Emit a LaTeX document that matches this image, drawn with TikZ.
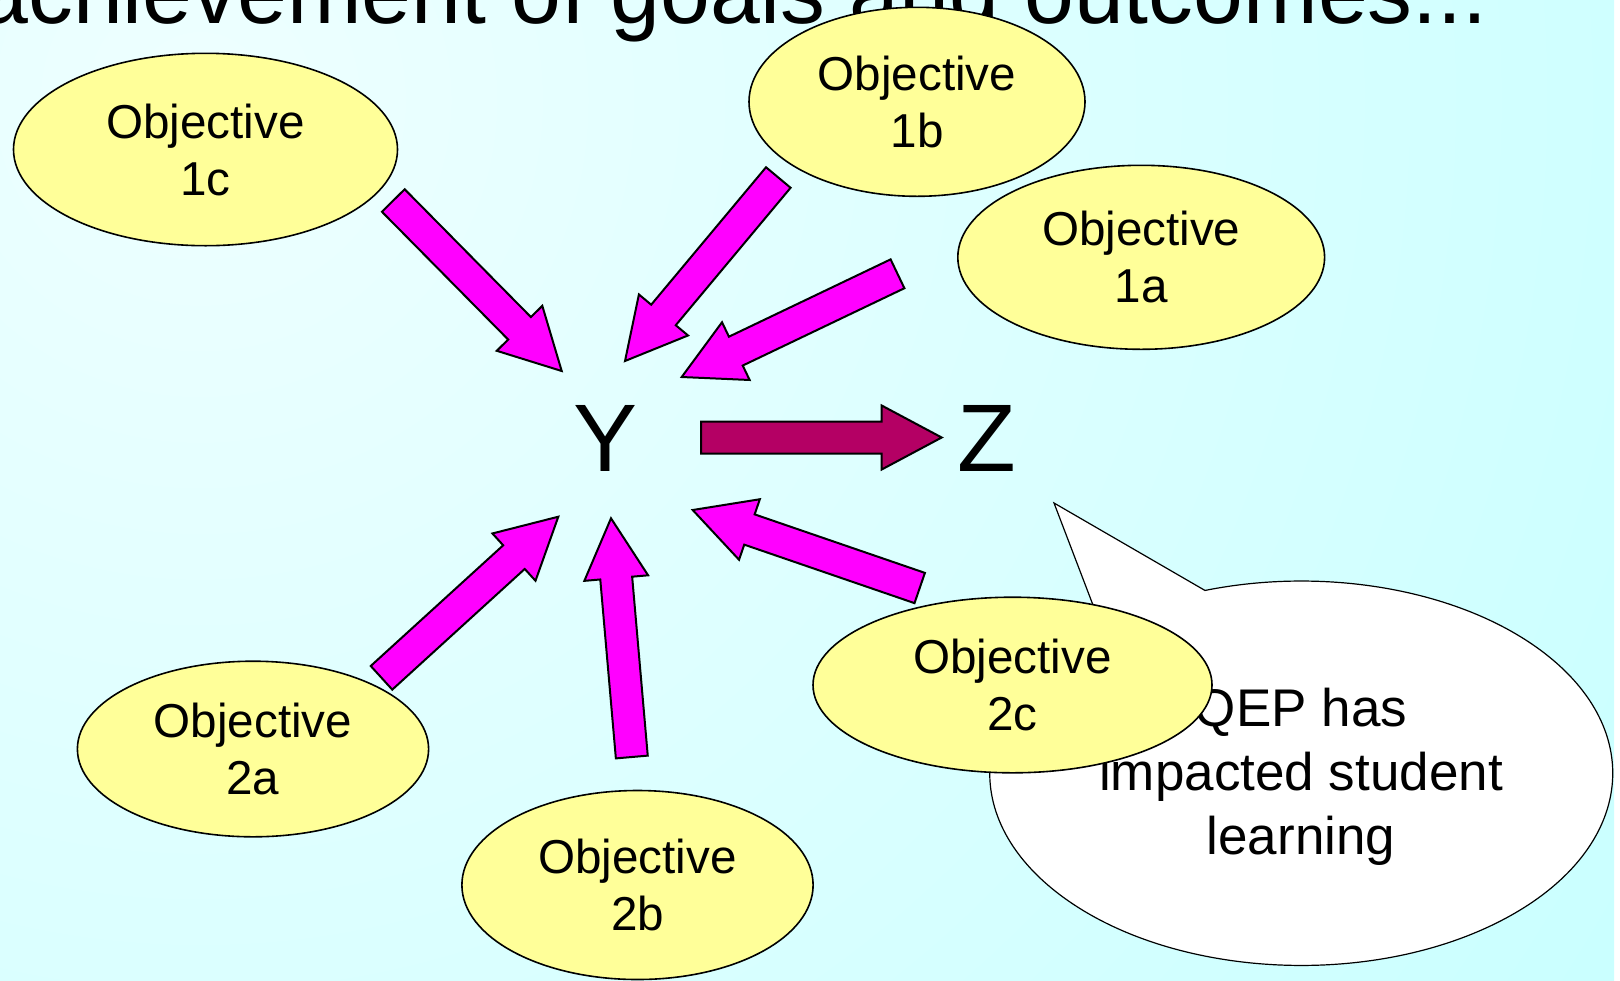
\documentclass[tikz,border=0pt]{standalone}
\usepackage{fontspec}
\setmainfont{Liberation Sans}
\usetikzlibrary{shapes.geometric, calc}

\definecolor{BgLight}{RGB}{238,255,255}
\definecolor{BgCyan}{RGB}{192,255,255}
\definecolor{ObjYellow}{RGB}{255,255,153}
\definecolor{ArrowPink}{RGB}{255,0,255}
\definecolor{LinkPurple}{RGB}{180,0,100}

\tikzset{
  objective/.style={ellipse, draw=black, line width=0.8pt, fill=ObjYellow, inner sep=0pt,
    align=center, font=\fontsize{23.8}{28.5}\selectfont},
  bigletter/.style={inner sep=0pt, font=\fontsize{48}{56}\selectfont},
}

% fat block arrow from #2 to #3
\newcommand{\blockarrow}[3][ArrowPink]{%
  \coordinate (hb) at ($(#3)!30pt!(#2)$);
  \filldraw[fill=#1, draw=black, line width=1pt, line join=miter]
    ($(#2)!8pt!90:(#3)$) -- ($(hb)!8pt!90:(#3)$) -- ($(hb)!16pt!90:(#3)$) -- (#3)
    -- ($(hb)!16pt!-90:(#3)$) -- ($(hb)!8pt!-90:(#3)$) -- ($(#2)!8pt!-90:(#3)$) -- cycle;
}

\begin{document}
\begin{tikzpicture}[x=0.5pt, y=-0.5pt]
  \useasboundingbox (0,0) rectangle (1620,980);

  % Background
  \begin{scope}
    \clip (0,0) rectangle (1614,980);
    \shade[inner color=BgLight, outer color=BgCyan] (200,100) circle (2100);
  \end{scope}

  % Title, cut by the top edge
  \node[anchor=base east, inner sep=0pt, font=\fontsize{44.8}{54}\selectfont] (title) at (1488,23)
    {achievement of goals and outcomes...};

  % Speech bubble
  \coordinate (tip) at (1054,503);
  \filldraw[fill=white, draw=black, line width=0.6pt] (tip) -- (1101,626)
    arc[start angle=230, end angle=-108, x radius=311.5, y radius=192.2] -- cycle;
  \node[align=center, font=\fontsize{26.5}{32}\selectfont] (qep) at (1301,777)
    {QEP has\\impacted student\\learning};

  % Objectives
  \node[objective, minimum width=192pt, minimum height=96.2pt] (o1c) at (205.5,149.5) {Objective\\1c};
  \node[objective, minimum width=168pt, minimum height=94.5pt] (o1b) at (917,101.8) {Objective\\1b};
  \node[objective, minimum width=183.4pt, minimum height=92pt] (o1a) at (1141.2,257.3) {Objective\\1a};
  \node[objective, minimum width=175.6pt, minimum height=87.8pt] (o2a) at (253,749) {Objective\\2a};
  \node[objective, minimum width=175.6pt, minimum height=94.5pt] (o2b) at (637.5,885) {Objective\\2b};
  \node[objective, minimum width=199.5pt, minimum height=87.8pt] (o2c) at (1012.5,685) {Objective\\2c};

  % Y and Z
  \node[bigletter] (Y) at (606,438.5) {Y};
  \node[bigletter] (Z) at (987,438.5) {Z};

  % Arrow ends
  \coordinate (t1c) at (393.3,200.5);  \coordinate (h1c) at (561.7,371);
  \coordinate (t1b) at (778.3,177.5);  \coordinate (h1b) at (625,361);
  \coordinate (t1a) at (897.5,273.8);  \coordinate (h1a) at (681.7,377);
  \coordinate (t2a) at (381.5,677.8);  \coordinate (h2a) at (558.3,516.7);
  \coordinate (t2b) at (631.8,757);    \coordinate (h2b) at (611,518.3);
  \coordinate (t2c) at (919.7,588);    \coordinate (h2c) at (692.7,510);
  \coordinate (tyz) at (701,437.5);    \coordinate (hyz) at (941.7,437.5);

  % Arrows into Y
  \blockarrow{t1c}{h1c}
  \blockarrow{t1b}{h1b}
  \blockarrow{t1a}{h1a}
  \blockarrow{t2a}{h2a}
  \blockarrow{t2b}{h2b}
  \blockarrow{t2c}{h2c}

  % Y leads to Z
  \blockarrow[LinkPurple]{tyz}{hyz}
\end{tikzpicture}
\end{document}
